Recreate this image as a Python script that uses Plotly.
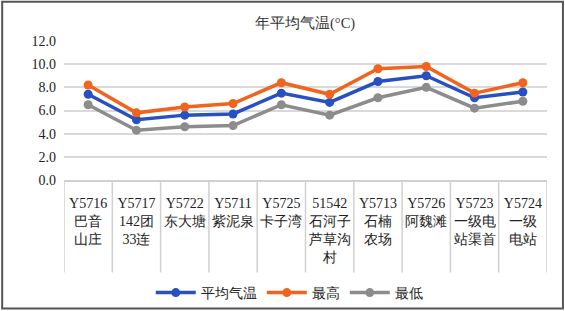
import plotly.graph_objects as go

categories = ["Y5716<br>巴音<br>山庄", "Y5717<br>142团<br>33连", "Y5722<br>东大塘", "Y5711<br>紫泥泉",
              "Y5725<br>卡子湾", "51542<br>石河子<br>芦草沟<br>村", "Y5713<br>石楠<br>农场", "Y5726<br>阿魏滩",
              "Y5723<br>一级电<br>站渠首", "Y5724<br>一级<br>电站"]
avg_temp = [7.4, 5.2, 5.6, 5.7, 7.5, 6.7, 8.5, 9.0, 7.1, 7.6]
max_temp = [8.2, 5.8, 6.3, 6.6, 8.4, 7.4, 9.6, 9.8, 7.5, 8.4]
min_temp = [6.5, 4.3, 4.6, 4.7, 6.5, 5.6, 7.1, 8.0, 6.2, 6.8]
series_names = ["平均气温", "最高", "最低"]
title_text = "年平均气温(°C)"

FONT = "Liberation Serif, Times New Roman, serif"
colors = ["#2850C0", "#F0641E", "#8C8C8C"]

x_idx = list(range(len(categories)))
fig = go.Figure()
for name, vals, col in zip(series_names, [avg_temp, max_temp, min_temp], colors):
    fig.add_trace(go.Scatter(x=x_idx, y=vals, name=name, mode="lines+markers",
                             line=dict(color=col, width=3.5),
                             marker=dict(color=col, size=9)))

shapes = []
# category separators below the axis
for i in range(len(categories) + 1):
    shapes.append(dict(type="line", xref="x", yref="paper", x0=i - 0.5, x1=i - 0.5,
                       y0=0, y1=-0.665, line=dict(color="#D0D0D0", width=1.5)))
# outer border
shapes.append(dict(type="rect", xref="paper", yref="paper", x0=-0.128, x1=1.033,
                   y0=-0.925, y1=1.283, line=dict(color="#555555", width=2)))

fig.update_layout(
    width=565, height=311,
    margin=dict(l=64, r=18, t=41, b=131, autoexpand=False),
    paper_bgcolor="white", plot_bgcolor="white",
    font=dict(family=FONT, size=14, color="#222222"),
    title=dict(text=title_text, x=0.54, xanchor="center", y=0.925, yanchor="middle",
               font=dict(family=FONT, size=14.5, color="#333333")),
    xaxis=dict(tickmode="array", tickvals=x_idx, ticktext=categories,
               range=[-0.5, len(categories) - 0.5], showgrid=False, zeroline=False,
               showline=True, linecolor="#D0D0D0", linewidth=1.5, ticks="",
               ticklabelstandoff=9,
               tickfont=dict(family=FONT, size=14, color="#222222"), tickangle=0, automargin=False),
    yaxis=dict(range=[0, 12], tickvals=[0, 2, 4, 6, 8, 10, 12], tickformat=".1f",
               showgrid=True, gridcolor="#D9D9D9", gridwidth=1.5, zeroline=False,
               showline=False, ticks="", ticklen=0, ticklabelstandoff=7,
               tickfont=dict(family=FONT, size=14, color="#222222"), automargin=False),
    legend=dict(orientation="h", xref="container", yref="container", x=0.512, xanchor="center",
                y=0.058, yanchor="middle",
                font=dict(family=FONT, size=14, color="#222222"), itemwidth=40,
                bgcolor="rgba(0,0,0,0)"),
    shapes=shapes,
)

fig.write_html(
    "out.html",
    config={"displayModeBar": False},
    post_script="document.documentElement.style.margin='0';document.body.style.margin='0';"
                "document.documentElement.style.overflow='hidden';document.body.style.overflow='hidden';",
)
